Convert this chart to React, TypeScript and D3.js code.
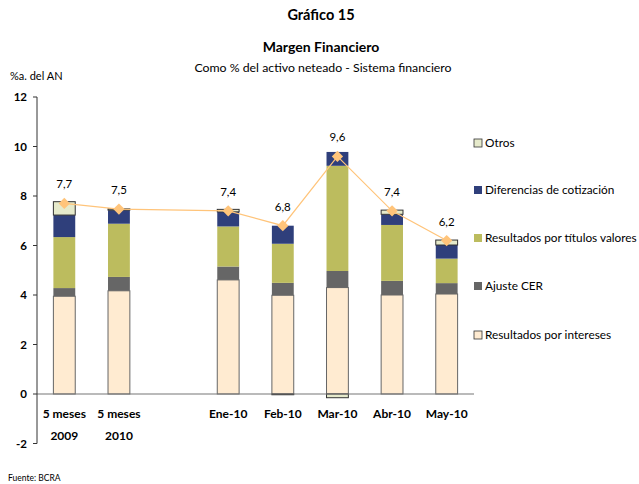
import React from "react";
import * as d3 from "d3";

const categories = ["5 meses|2009", "5 meses|2010", "", "Ene-10", "Feb-10", "Mar-10", "Abr-10", "May-10"];
const intereses = [3.95, 4.17, null, 4.61, 3.99, 4.3, 4.0, 4.04];
const ajusteCER = [0.33, 0.56, null, 0.54, 0.5, 0.67, 0.57, 0.44];
const titulos = [2.06, 2.15, null, 1.62, 1.58, 4.25, 2.26, 0.99];
const diferencias = [0.89, 0.55, null, 0.59, 0.73, 0.56, 0.43, 0.55];
const otros = [0.54, 0.05, null, 0.1, -0.03, -0.15, 0.17, 0.2];
const totals = [7.7, 7.47, null, 7.4, 6.8, 9.6, 7.4, 6.2];
const totalLabels = ["7,7", "7,5", "", "7,4", "6,8", "9,6", "7,4", "6,2"];
const yTicks = [-2, 0, 2, 4, 6, 8, 10, 12];

const seriesDefs = [
  { name: "Resultados por intereses", data: intereses, color: "#FFEBD1", stroke: "#666" },
  { name: "Ajuste CER", data: ajusteCER, color: "#666666", stroke: null },
  { name: "Resultados por títulos valores", data: titulos, color: "#BCBC5E", stroke: null },
  { name: "Diferencias de cotización", data: diferencias, color: "#2F3F7B", stroke: null },
  { name: "Otros", data: otros, color: "#E6EACB", stroke: "#333" },
];

const FONT = "Lato, 'Open Sans', sans-serif";

export default function App() {
  const W = 639, H = 484;
  const left = 37, right = 474;
  const y = d3.scaleLinear().domain([-2, 12]).range([443.5, 97]);
  const x = d3.scaleBand().domain(categories.map((c, i) => String(i))).range([left, right]).paddingInner(0.6).paddingOuter(0.3);
  const bw = x.bandwidth();

  const rects: any[] = [];
  categories.forEach((c, i) => {
    if (intereses[i] == null) return;
    let pos = 0, neg = 0;
    seriesDefs.forEach((s, si) => {
      const v = s.data[i] as number;
      let y0, y1;
      if (v >= 0) { y0 = pos; y1 = pos + v; pos = y1; }
      else { y0 = neg; y1 = neg + v; neg = y1; }
      const top = y(Math.max(y0, y1));
      const bot = y(Math.min(y0, y1));
      rects.push(
        <rect key={`${i}-${si}`} x={x(String(i))} y={top} width={bw} height={Math.max(0, bot - top)}
          fill={s.color} stroke={s.stroke || "none"} strokeWidth={s.stroke ? 1 : 0} />
      );
    });
  });

  const pts = categories.map((c, i) => totals[i] == null ? null : [x(String(i))! + bw / 2, y(totals[i] as number)]).filter(Boolean) as [number, number][];
  const line = d3.line()(pts);

  const legendYs = [335, 286, 238, 190, 143];

  return (
    <svg width={W} height={H} style={{ position: "absolute", left: 0, top: 0, fontFamily: FONT }}>
      <rect width={W} height={H} fill="#fff" />
      <text x={321} y={20} textAnchor="middle" fontWeight="bold" fontSize={14.5}>Gráfico 15</text>
      <text x={321} y={52} textAnchor="middle" fontWeight="bold" fontSize={14}>Margen Financiero</text>
      <text x={323} y={72} textAnchor="middle" fontSize={12.3}>Como % del activo neteado - Sistema financiero</text>
      <text x={10} y={80} fontSize={11}>%a. del AN</text>

      {rects}
      <line x1={left} x2={right} y1={y(0)} y2={y(0)} stroke="#777" strokeWidth={1.2} />
      <line x1={left} x2={left} y1={y(12)} y2={y(-2)} stroke="#333" strokeWidth={1} />
      {yTicks.map(t => (
        <g key={t}>
          <line x1={left - 4} x2={left} y1={y(t)} y2={y(t)} stroke="#333" />
          <text x={27} y={y(t)} dy="0.35em" textAnchor="end" fontWeight="bold" fontSize={11.5}>{t}</text>
        </g>
      ))}
      <path d={line || ""} fill="none" stroke="#FFC47A" strokeWidth={1.2} />
      {pts.map((p, i) => (
        <rect key={i} x={p[0] - 4} y={p[1] - 4} width={8} height={8} fill="#FFC47A" transform={`rotate(45 ${p[0]} ${p[1]})`} />
      ))}
      {categories.map((c, i) => totals[i] == null ? null : (
        <text key={"l" + i} x={x(String(i))! + bw / 2} y={y(totals[i] as number) - 19} dy="0.35em" textAnchor="middle" fontSize={11.5}>{totalLabels[i]}</text>
      ))}
      {categories.map((c, i) => {
        if (!c) return null;
        const parts = c.split("|");
        return (
          <text key={"x" + i} x={x(String(i))! + bw / 2} textAnchor="middle" fontWeight="bold" fontSize={12}>
            {parts.map((p, j) => <tspan key={j} x={x(String(i))! + bw / 2} y={418 + j * 22}>{p}</tspan>)}
          </text>
        );
      })}
      {seriesDefs.map((s, si) => (
        <g key={"lg" + si}>
          <rect x={474} y={legendYs[si] - 4} width={8} height={8} fill={s.color} stroke={s.stroke ? "#333" : "none"} strokeWidth={0.8} />
          <text x={485} y={legendYs[si]} dy="0.35em" fontSize={11.8}>{s.name}</text>
        </g>
      ))}
      <text x={8} y={481} fontSize={8.5}>Fuente: BCRA</text>
    </svg>
  );
}
